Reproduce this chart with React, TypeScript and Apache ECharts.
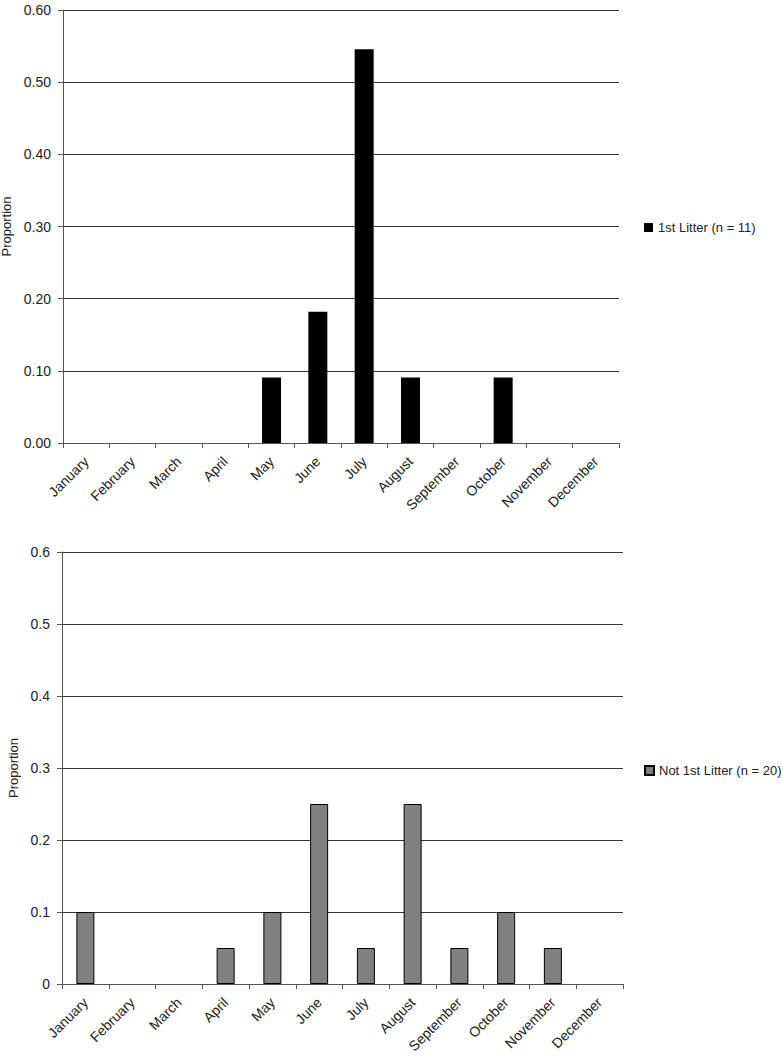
import React, { useEffect, useRef } from "react";
import * as echarts from "echarts";

const months = ["January", "February", "March", "April", "May", "June", "July", "August", "September", "October", "November", "December"];
const firstLitter = [0, 0, 0, 0, 0.0909, 0.1818, 0.5455, 0.0909, 0, 0.0909, 0, 0];
const notFirstLitter = [0.1, 0, 0, 0.05, 0.1, 0.25, 0.05, 0.25, 0.05, 0.1, 0.05, 0];
const firstName = "1st Litter (n = 11)";
const notFirstName = "Not 1st Litter (n = 20)";

const FONT = "Liberation Sans, Arial, sans-serif";

export default function App() {
  const ref = useRef<HTMLDivElement>(null);
  useEffect(() => {
    if (!ref.current) return;
    const chart = echarts.init(ref.current, undefined, { renderer: "svg" });
    const xAxisBase = (gridIndex: number) => ({
      type: "category" as const,
      gridIndex,
      data: months,
      boundaryGap: true,
      axisLine: { lineStyle: { color: "#555", width: 1 } },
      axisTick: { show: true, length: 5, lineStyle: { color: "#555" } },
      axisLabel: { rotate: 45, color: "#222", fontFamily: FONT, fontSize: 14, margin: 16, interval: 0 },
      splitLine: { show: false },
    });
    const yAxisBase = (gridIndex: number, gap: number, fmt: (v: number) => string) => ({
      type: "value" as const,
      gridIndex,
      min: 0,
      max: 0.6,
      interval: 0.1,
      name: "Proportion",
      nameLocation: "middle" as const,
      nameGap: gap,
      nameTextStyle: { color: "#222", fontFamily: FONT, fontSize: 13 },
      axisLine: { show: true, lineStyle: { color: "#555", width: 1 } },
      axisTick: { show: true, length: 5, lineStyle: { color: "#555" } },
      axisLabel: { color: "#222", fontFamily: FONT, fontSize: 14, margin: 12, formatter: fmt },
      splitLine: { show: true, lineStyle: { color: "#333", width: 1 } },
    });
    const nz = (arr: number[]) => arr.map((v) => (v === 0 ? null : v));
    const legendBase = {
      orient: "vertical" as const,
      icon: "rect",
      itemWidth: 9,
      itemHeight: 9,
      itemGap: 4,
      textStyle: { color: "#222", fontFamily: FONT, fontSize: 13 },
    };
    chart.setOption({
      animation: false,
      backgroundColor: "#fff",
      grid: [
        { left: 63, top: 10, width: 556, height: 433, outerBoundsMode: "none", containLabel: false },
        { left: 62, top: 552, width: 561, height: 432, outerBoundsMode: "none", containLabel: false },
      ],
      legend: [
        { ...legendBase, data: [firstName], left: 639, top: 216 },
        { ...legendBase, data: [notFirstName], left: 639, top: 759 },
      ],
      xAxis: [xAxisBase(0), xAxisBase(1)],
      yAxis: [
        yAxisBase(0, 48, (v: number) => v.toFixed(2)),
        yAxisBase(1, 40, (v: number) => String(Math.round(v * 10) / 10)),
      ],
      series: [
        {
          type: "bar",
          name: firstName,
          xAxisIndex: 0,
          yAxisIndex: 0,
          data: nz(firstLitter),
          barWidth: 19,
          itemStyle: { color: "#000", borderColor: "#000", borderWidth: 0 },
        },
        {
          type: "bar",
          name: notFirstName,
          xAxisIndex: 1,
          yAxisIndex: 1,
          data: nz(notFirstLitter),
          barWidth: 18,
          itemStyle: { color: "#808080", borderColor: "#000", borderWidth: 1 },
        },
      ],
    });
    return () => chart.dispose();
  }, []);
  return (
    <div
      ref={ref}
      style={{ position: "fixed", left: 0, top: 0, width: 783, height: 1058, background: "#fff" }}
    />
  );
}
